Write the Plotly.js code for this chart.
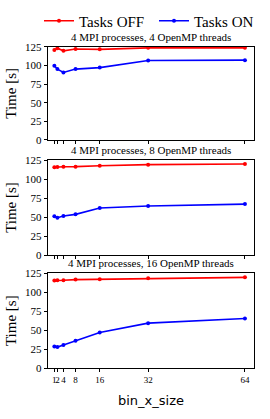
<!DOCTYPE html>
<html><head><meta charset="utf-8">
<script src="https://cdn.plot.ly/plotly-3.0.1.min.js"></script>
<style>html,body{margin:0;padding:0;background:#fff}#c{width:270px;height:419px}</style>
</head><body><div id="c"></div>
<script>
const binSizes = [1, 2, 4, 8, 16, 32, 64];
const panelTitles = ["4 MPI processes, 4 OpenMP threads", "4 MPI processes, 8 OpenMP threads", "4 MPI processes, 16 OpenMP threads"];
const offT4  = [120.5, 123, 119.5, 122, 121.5, 123.5, 123.5];
const onT4   = [99.5, 95, 90.5, 95, 97, 106.5, 107];
const offT8  = [115.4, 115.8, 116.2, 116.3, 117.5, 118.9, 119.7];
const onT8   = [51, 49, 51.3, 53.5, 61.8, 64.5, 67];
const offT16 = [115.4, 115.8, 115.8, 116.7, 117.1, 118.4, 119.7];
const onT16  = [28.5, 27.6, 30.3, 36, 47, 59.2, 65.4];
const yTicks = [0, 25, 50, 75, 100, 125];
const xTickLabels = ["1", "2", "4", "8", "16", "32", "64"];

const serif = "Liberation Serif, DejaVu Serif, serif";
const offSeries = [offT4, offT8, offT16];
const onSeries = [onT4, onT8, onT16];
const traces = [];
for (let i = 0; i < 3; i++) {
  const sfx = i === 0 ? "" : String(i + 1);
  traces.push({x: binSizes, y: offSeries[i], type: "scatter", mode: "lines+markers", name: "Tasks OFF",
    line: {color: "#ff0000", width: 1.6}, marker: {color: "#ff0000", size: 4},
    xaxis: "x" + sfx, yaxis: "y" + sfx, showlegend: i === 0, legendgroup: "off"});
  traces.push({x: binSizes, y: onSeries[i], type: "scatter", mode: "lines+markers", name: "Tasks ON",
    line: {color: "#0000ff", width: 1.6}, marker: {color: "#0000ff", size: 4},
    xaxis: "x" + sfx, yaxis: "y" + sfx, showlegend: i === 0, legendgroup: "on"});
}
const yDomains = [[0.6659, 0.8885], [0.3914, 0.6181], [0.1217, 0.3477]];
const xDom = [0.1767, 0.9419];
const layout = {
  width: 270, height: 419,
  margin: {l: 0, r: 0, t: 0, b: 0},
  paper_bgcolor: "#fff", plot_bgcolor: "#fff",
  showlegend: true,
  legend: {orientation: "h", x: 39 / 270, xanchor: "left", y: 1 - 21 / 419, yanchor: "middle",
    font: {family: serif, size: 15, color: "#000"}, entrywidth: 70, tracegroupgap: 0},
  annotations: [],
  font: {family: serif, color: "#000"}
};
for (let i = 0; i < 3; i++) {
  const sfx = i === 0 ? "" : String(i + 1);
  layout["xaxis" + sfx] = {domain: xDom, anchor: "y" + sfx, range: [-1.2, 67.1],
    tickvals: binSizes, ticktext: xTickLabels, showticklabels: i === 2, tickangle: 0,
    ticks: "outside", ticklen: 3, tickcolor: "#000", showgrid: false, zeroline: false,
    showline: true, mirror: true, linecolor: "#000", linewidth: 1, automargin: false,
    tickfont: {family: serif, size: 9, color: "#000"}};
  layout["yaxis" + sfx] = {domain: yDomains[i], anchor: "x" + sfx, range: [0, 125],
    tickvals: yTicks, ticks: "outside", ticklen: 3, tickcolor: "#000",
    showgrid: false, zeroline: false, showline: true, mirror: true, linecolor: "#000", linewidth: 1,
    automargin: false, tickfont: {family: serif, size: 11, color: "#000"},
    title: {text: "Time [s]", font: {family: serif, size: 15, color: "#000"}, standoff: 4}};
  layout.annotations.push({text: panelTitles[i], xref: "paper", yref: "paper",
    x: (xDom[0] + xDom[1]) / 2, y: yDomains[i][1], yanchor: "bottom", yshift: 2,
    showarrow: false, font: {family: serif, size: 11, color: "#000"}});
}
layout.annotations.push({text: "bin_x_size", xref: "paper", yref: "paper", x: (xDom[0] + xDom[1]) / 2,
  y: 1 - 400 / 419, yanchor: "middle", showarrow: false, font: {family: "DejaVu Sans, sans-serif", size: 13, color: "#000"}});
Plotly.newPlot("c", traces, layout, {displayModeBar: false, staticPlot: true});
</script></body></html>
